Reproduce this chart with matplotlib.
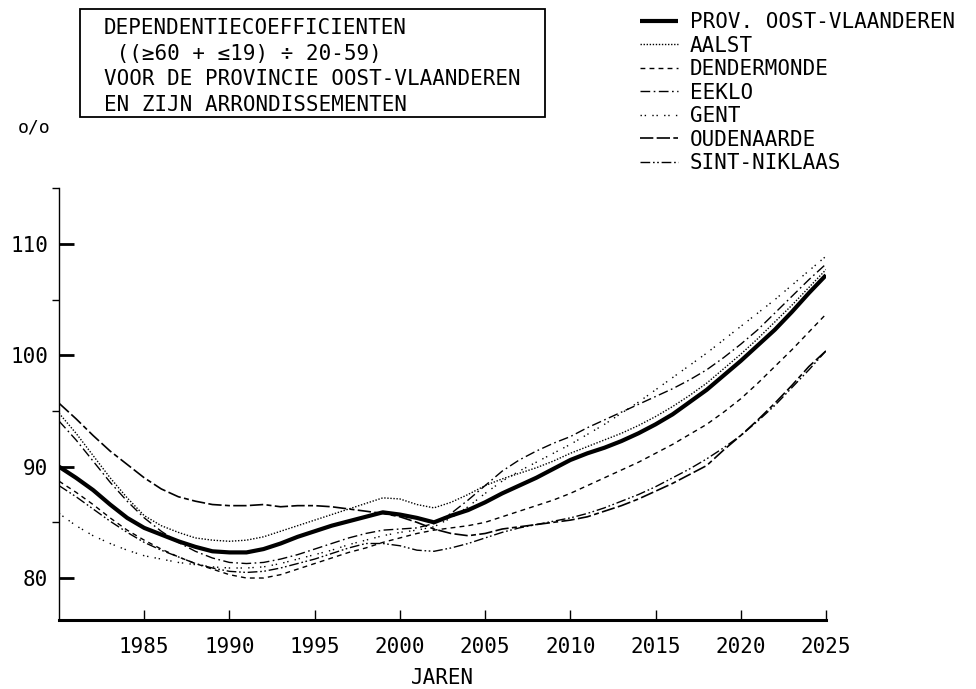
import matplotlib
matplotlib.use('Agg')
import matplotlib.pyplot as plt
from matplotlib.patches import Rectangle

plt.rcParams['font.family'] = ['DejaVu Sans Mono', 'DejaVu Sans']

# years 1980 - 2025
years = list(range(1980, 2026))

prov = [90.0, 89.0, 87.9, 86.6, 85.4, 84.5, 83.9, 83.3, 82.8, 82.4,
        82.3, 82.3, 82.6, 83.1, 83.7, 84.2, 84.7, 85.1, 85.5, 85.9,
        85.7, 85.4, 85.0, 85.6, 86.1, 86.8, 87.6, 88.3, 89.0, 89.8,
        90.6, 91.2, 91.7, 92.3, 93.0, 93.8, 94.7, 95.8, 96.9, 98.2,
        99.5, 100.9, 102.3, 103.9, 105.6, 107.2]
aalst = [94.8, 93.0, 91.0, 89.0, 87.2, 85.6, 84.7, 84.1, 83.6, 83.4,
         83.3, 83.4, 83.7, 84.2, 84.7, 85.2, 85.7, 86.2, 86.7, 87.2,
         87.1, 86.6, 86.3, 86.8, 87.5, 88.3, 88.9, 89.4, 89.9, 90.5,
         91.2, 91.8, 92.4, 93.0, 93.7, 94.5, 95.4, 96.4, 97.5, 98.8,
         100.1, 101.5, 103.0, 104.5, 106.1, 107.7]
dendermonde = [88.7, 87.7, 86.6, 85.4, 84.3, 83.4, 82.6, 81.9, 81.3, 80.8,
               80.3, 80.0, 80.0, 80.3, 80.8, 81.3, 81.8, 82.3, 82.7, 83.2,
               83.6, 84.0, 84.3, 84.5, 84.7, 85.0, 85.5, 86.0, 86.5, 87.0,
               87.6, 88.3, 89.0, 89.7, 90.4, 91.2, 92.0, 92.9, 93.8, 94.9,
               96.1, 97.5, 99.0, 100.5, 102.1, 103.7]
eeklo = [94.1, 92.4, 90.5, 88.6, 86.9, 85.4, 84.2, 83.2, 82.4, 81.8,
         81.4, 81.3, 81.4, 81.7, 82.1, 82.6, 83.1, 83.6, 84.0, 84.3,
         84.4, 84.5, 84.9, 85.8, 87.0, 88.3, 89.6, 90.6, 91.4, 92.1,
         92.7, 93.5, 94.2, 94.9, 95.6, 96.3, 97.0, 97.8, 98.7, 99.8,
         101.0, 102.3, 103.8, 105.3, 106.8, 108.2]
gent = [85.8, 84.7, 83.8, 83.1, 82.5, 82.0, 81.7, 81.4, 81.2, 81.0,
        80.9, 80.9, 81.0, 81.3, 81.7, 82.1, 82.5, 83.0, 83.4, 83.8,
        84.1, 84.3, 84.6, 85.4, 86.4, 87.6, 88.7, 89.6, 90.4, 91.2,
        92.0, 92.9, 93.8, 94.8, 95.8, 96.9, 98.0, 99.1, 100.2, 101.4,
        102.6, 103.8, 105.0, 106.3, 107.6, 108.9]
oudenaarde = [95.7, 94.3, 92.8, 91.4, 90.2, 89.0, 88.0, 87.3, 86.9, 86.6,
              86.5, 86.5, 86.6, 86.4, 86.5, 86.5, 86.4, 86.2, 86.0, 85.8,
              85.5, 85.0, 84.4, 84.0, 83.8, 84.0, 84.4, 84.6, 84.8, 85.0,
              85.2, 85.5, 86.0, 86.5, 87.1, 87.8, 88.5, 89.3, 90.1, 91.5,
              92.8, 94.2, 95.7, 97.3, 99.0, 100.4]
sint_niklaas = [88.3, 87.3, 86.2, 85.1, 84.1, 83.2, 82.5, 81.9, 81.3, 80.9,
                80.6, 80.5, 80.6, 80.9, 81.3, 81.7, 82.2, 82.7, 83.1, 83.1,
                82.9, 82.5, 82.4, 82.7, 83.1, 83.6, 84.1, 84.5, 84.8, 85.1,
                85.4, 85.8, 86.3, 86.9, 87.5, 88.2, 89.0, 89.8, 90.7, 91.7,
                92.8, 94.1, 95.5, 97.1, 98.7, 100.4]

labels = ['PROV. OOST-VLAANDEREN', 'AALST', 'DENDERMONDE', 'EEKLO',
          'GENT', 'OUDENAARDE', 'SINT-NIKLAAS']
data = [prov, aalst, dendermonde, eeklo, gent, oudenaarde, sint_niklaas]
# line look per series (width, dash pattern)
styles = [(3.0, None),
          (1.0, (1, 1.2)),
          (1.0, (3.5, 3)),
          (1.0, (7, 2.5, 1.2, 2.5)),
          (1.0, (1, 2, 1, 4.5)),
          (1.2, (8, 2, 8, 2, 3, 2)),
          (1.0, (7, 2, 1.2, 1.8, 1.2, 2))]

fig = plt.figure(figsize=(9.76, 6.89), dpi=100)
ax = fig.add_axes([59 / 976, 1 - 620 / 689, (826 - 59) / 976, (620 - 188.3) / 689])

handles = []
for vals, lab, (lw, dash) in zip(data, labels, styles):
    if dash is None:
        h, = ax.plot(years, vals, color='black', lw=lw, solid_capstyle='butt', label=lab)
    else:
        h, = ax.plot(years, vals, color='black', lw=lw, dashes=dash, label=lab)
    handles.append(h)

ax.set_xlim(1980, 2025)
ax.set_ylim(76.23, 115)
ax.spines['top'].set_visible(False)
ax.spines['right'].set_visible(False)
ax.spines['left'].set_linewidth(1.0)
ax.spines['bottom'].set_linewidth(2.2)

ax.set_xticks(list(range(1985, 2026, 5)))
ax.set_xticks([1990, 2000, 2010, 2020], minor=True)
ax.set_yticks([80, 90, 100, 110])
ax.set_yticks([85, 95, 105, 115], minor=True)
ax.tick_params(direction='in', labelsize=15, colors='black')
ax.tick_params(axis='x', which='major', length=7, width=1, pad=12)
ax.tick_params(axis='x', which='minor', length=13, width=1)
ax.tick_params(axis='y', which='major', length=11, width=2, pad=8)
ax.tick_params(axis='y', which='minor', length=5, width=1)

ax.set_xlabel('JAREN', fontsize=15, labelpad=8)
fig.text(18 / 976, 1 - 127 / 689, 'o/o', fontsize=13, va='center', ha='left')

# title box
fig.add_artist(Rectangle((80 / 976, 1 - 117 / 689), (545 - 80) / 976, 108 / 689,
                         transform=fig.transFigure, fill=False, lw=1.3, color='black'))
title_lines = ['DEPENDENTIECOEFFICIENTEN',
               ' ((≥60 + ≤19) ÷ 20-59)',
               'VOOR DE PROVINCIE OOST-VLAANDEREN',
               'EN ZIJN ARRONDISSEMENTEN']
for i, line in enumerate(title_lines):
    fig.text(104 / 976, 1 - (28 + 25.7 * i) / 689, line, fontsize=15,
             va='center', ha='left')

fig.legend(handles=handles, labels=labels, loc='upper left',
           bbox_to_anchor=(640 / 976, 1 - 12 / 689), frameon=False,
           fontsize=15, handlelength=1.8, handletextpad=0.6,
           labelspacing=0.17, borderpad=0, borderaxespad=0)

fig.savefig('out.png', dpi=100)
